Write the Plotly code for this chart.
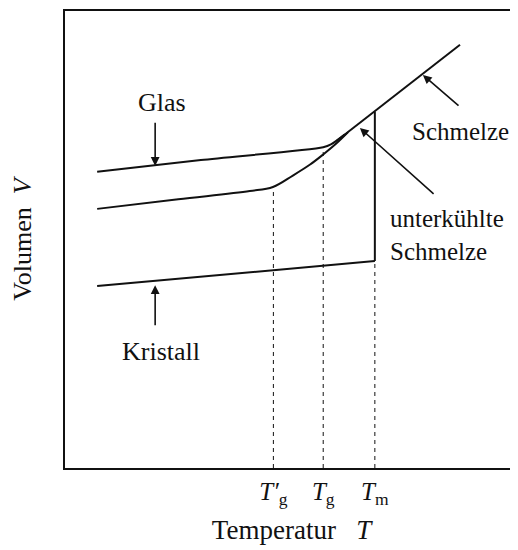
import plotly.graph_objects as go

# ---- data (arbitrary units, read from the schematic) ----
glas_T = [7.1, 30.0, 57.0, 58.7, 61.8]
glas_V = [64.8, 67.4, 70.2, 70.8, 73.0]

schmelze_T = [60.0, 87.2]
schmelze_V = [71.6, 92.6]

glas2_T = [7.1, 25.0, 40.8, 45.9, 50.3, 54.1, 57.0, 60.0, 62.5]
glas2_V = [56.7, 58.8, 60.6, 61.5, 64.0, 66.4, 68.6, 71.1, 73.5]

kristall_T = [7.1, 68.4]
kristall_V = [39.8, 45.3]

tm_jump_T = [68.4, 68.4]
tm_jump_V = [45.3, 78.0]

tick_vals = [46.0, 57.0, 68.4]
tick_text = ["<i>T′</i><sub>g</sub>", "<i>T</i><sub>g</sub>", "<i>T</i><sub>m</sub>"]
dash_tops = [61.3, 70.2, 45.3]

FONT = "Liberation Serif"
BLACK = "#111111"

fig = go.Figure()
solid = dict(color=BLACK, width=2)
fig.add_trace(go.Scatter(x=glas_T, y=glas_V, mode="lines", line=dict(shape="spline", smoothing=0.8, **solid)))
fig.add_trace(go.Scatter(x=glas2_T, y=glas2_V, mode="lines", line=dict(shape="spline", smoothing=1.0, **solid)))
fig.add_trace(go.Scatter(x=schmelze_T, y=schmelze_V, mode="lines", line=solid))
fig.add_trace(go.Scatter(x=kristall_T, y=kristall_V, mode="lines", line=solid))
fig.add_trace(go.Scatter(x=tm_jump_T, y=tm_jump_V, mode="lines", line=solid))
for t, top in zip(tick_vals, dash_tops):
    fig.add_trace(go.Scatter(x=[t, t], y=[0, top], mode="lines",
                             line=dict(color=BLACK, width=1, dash="4px,4px")))

ann = []
def arrow(hx, hy, tx, ty):
    ann.append(dict(x=hx, y=hy, ax=tx, ay=ty, xref="x", yref="y", axref="x", ayref="y",
                    text="", showarrow=True, arrowhead=2, arrowsize=1.1, arrowwidth=1.6,
                    arrowcolor=BLACK))
def label(x, y, txt, xanchor="center", size=26):
    ann.append(dict(x=x, y=y, xref="x", yref="y", text=txt, showarrow=False,
                    xanchor=xanchor, yanchor="middle", align="left",
                    font=dict(family=FONT, size=size, color=BLACK)))

arrow(19.9, 66.1, 19.9, 75.9)
label(21.4, 79.9, "Glas")
arrow(79.0, 86.0, 87.2, 79.0)
label(87.4, 73.7, "Schmelze", size=25)
arrow(65.1, 74.4, 81.7, 59.7)
label(71.3, 51.0, "unterkühlte<br>Schmelze", xanchor="left", size=25)
arrow(19.9, 40.0, 19.9, 30.9)
label(21.2, 25.6, "Kristall")

fig.update_layout(
    width=510, height=542,
    margin=dict(l=57, r=0, t=3, b=82),
    paper_bgcolor="white", plot_bgcolor="white",
    showlegend=False,
    font=dict(family=FONT, size=26, color=BLACK),
    annotations=ann,
    xaxis=dict(range=[0, 100], showgrid=False, zeroline=False,
               showline=True, linecolor=BLACK, linewidth=2, mirror=True,
               tickmode="array", tickvals=tick_vals, ticktext=tick_text,
               ticks="", tickfont=dict(family=FONT, size=25, color=BLACK),
               title=dict(text="Temperatur   <i>T</i>", standoff=12,
                          font=dict(family=FONT, size=27, color=BLACK))),
    yaxis=dict(range=[0, 100], showgrid=False, zeroline=False,
               showline=True, linecolor=BLACK, linewidth=2, mirror=False,
               showticklabels=False, ticks="",
               title=dict(text="Volumen  <i>V</i>", standoff=24,
                          font=dict(family=FONT, size=26, color=BLACK))),
)
fig.write_html("out.html")
